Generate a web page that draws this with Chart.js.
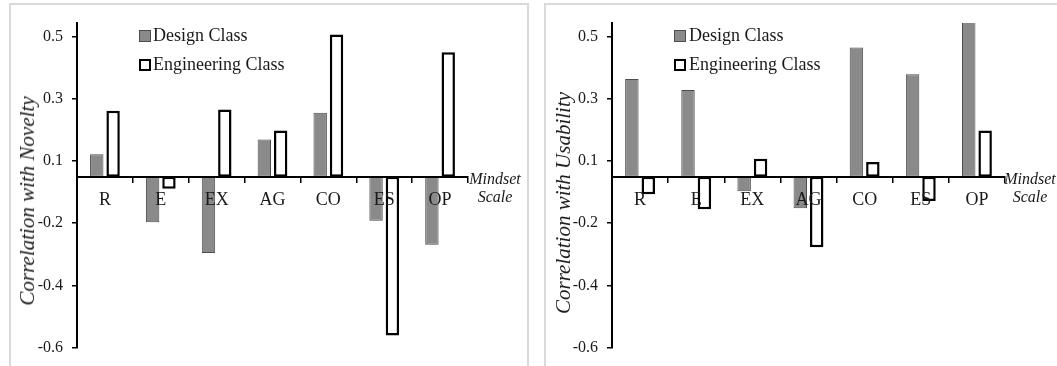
<!DOCTYPE html>
<html><head><meta charset="utf-8">
<script src="https://cdn.jsdelivr.net/npm/chart.js@4.4.1/dist/chart.umd.min.js"></script>
<style>
html,body{margin:0;padding:0;background:#fff;overflow:hidden;width:1057px;height:366px;}
.panel{position:absolute;border:2px solid #d9d9d9;box-sizing:border-box;}
canvas{position:absolute;top:0;}
.t{position:absolute;font-family:"Liberation Serif","Times New Roman",serif;color:#1a1a1a;white-space:nowrap;z-index:5;}
.leg{font-size:18px;line-height:20px;}
.ytitle{font-size:21px;font-style:italic;line-height:22px;transform:translate(-50%,-50%) rotate(-90deg);}
.xtitle{font-size:16px;font-style:italic;line-height:18px;text-align:center;transform:translateX(-50%);}
.sw{position:absolute;box-sizing:border-box;width:12px;height:11.5px;z-index:5;}
.swd{background:#8a8a8a;border:1px solid #4d4d4d;}
.swe{background:#fff;border:2.5px solid #000;}
</style></head>
<body>
<div class="panel" style="left:9px;top:3px;width:520px;height:420px;"></div>
<div class="panel" style="left:544px;top:3px;width:600px;height:420px;"></div>
<canvas id="c1" width="528" height="366" style="left:0px;width:528px;height:366px;"></canvas>
<canvas id="c2" width="529" height="366" style="left:528px;width:529px;height:366px;"></canvas>

<div class="sw swd" style="left:139px;top:30px;"></div>
<div class="t leg" style="left:153px;top:25px;">Design Class</div>
<div class="sw swe" style="left:139px;top:59px;"></div>
<div class="t leg" style="left:153px;top:54px;">Engineering Class</div>
<div class="t ytitle" style="left:27px;top:201px;">Correlation with Novelty</div>
<div class="t xtitle" style="left:495px;top:170px;">Mindset<br>Scale</div>

<div class="sw swd" style="left:674px;top:30px;"></div>
<div class="t leg" style="left:689px;top:25px;">Design Class</div>
<div class="sw swe" style="left:674px;top:59px;"></div>
<div class="t leg" style="left:689px;top:54px;">Engineering Class</div>
<div class="t ytitle" style="left:563px;top:203px;">Correlation with Usability</div>
<div class="t xtitle" style="left:1030px;top:170px;">Mindset<br>Scale</div>

<script>
const categories = ['R', 'E', 'EX', 'AG', 'CO', 'ES', 'OP'];
const seriesNames = ['Design Class', 'Engineering Class'];
const noveltyDesign = [0.122, -0.097, -0.196, 0.170, 0.256, -0.092, -0.169];
const noveltyEngineering = [0.262, 0.011, 0.266, 0.199, 0.508, -0.462, 0.451];
const usabilityDesign = [0.365, 0.329, 0.003, -0.052, 0.466, 0.380, 0.550];
const usabilityEngineering = [-0.007, -0.055, 0.108, -0.177, 0.097, -0.028, 0.199];
const yTickValues = [0.5, 0.3, 0.1, -0.1, -0.3, -0.5];
const yTickLabels = ['0.5', '0.3', '0.1', '-0.2', '-0.4', '-0.6'];
const BASE = 0.05;
const Y_MIN = -0.5;
const Y_MAX = 0.545;

const FONT = '"Liberation Serif", "Times New Roman", serif';

function makeChart(id, designVals, engVals, yAxisWidth, padRight) {
  return new Chart(document.getElementById(id), {
    type: 'bar',
    data: {
      labels: categories,
      datasets: [
        { label: seriesNames[0], data: designVals, base: BASE,
          backgroundColor: '#8a8a8a', borderColor: '#4d4d4d', borderWidth: 1, borderSkipped: false },
        { label: seriesNames[1], data: engVals, base: BASE,
          backgroundColor: '#ffffff', borderColor: '#000000', borderWidth: 2.5, borderSkipped: false }
      ]
    },
    options: {
      responsive: false,
      animation: false,
      devicePixelRatio: 1,
      layout: { padding: { left: 0, top: 23, right: padRight, bottom: 10 } },
      plugins: { legend: { display: false }, tooltip: { enabled: false } },
      datasets: { bar: { categoryPercentage: 0.585, barPercentage: 0.82 } },
      scales: {
        x: {
          type: 'category',
          position: { y: BASE },
          offset: true,
          grid: { display: true, drawOnChartArea: false, drawTicks: true, tickLength: 5, offset: true, color: '#000', lineWidth: 1.5, z: 1 },
          border: { display: true, color: '#000', width: 2, z: 1 },
          ticks: { padding: 8, color: '#1a1a1a', font: { family: FONT, size: 18 }, maxRotation: 0, autoSkip: false, z: 1 }
        },
        y: {
          type: 'linear',
          position: 'left',
          min: Y_MIN,
          max: Y_MAX,
          afterFit: (s) => { s.width = yAxisWidth; },
          afterBuildTicks: (s) => { s.ticks = yTickValues.map(v => ({ value: v })); },
          grid: { drawOnChartArea: false, drawTicks: true, tickLength: 5, color: '#000', lineWidth: 1.5 },
          border: { display: true, color: '#000', width: 2 },
          ticks: {
            padding: 9, color: '#1a1a1a', font: { family: FONT, size: 16 },
            callback: (v) => {
              const i = yTickValues.findIndex(t => Math.abs(t - v) < 1e-9);
              return i >= 0 ? yTickLabels[i] : '';
            }
          }
        }
      }
    }
  });
}

makeChart('c1', noveltyDesign, noveltyEngineering, 77, 60);
makeChart('c2', usabilityDesign, usabilityEngineering, 84, 52);
</script>
</body></html>
